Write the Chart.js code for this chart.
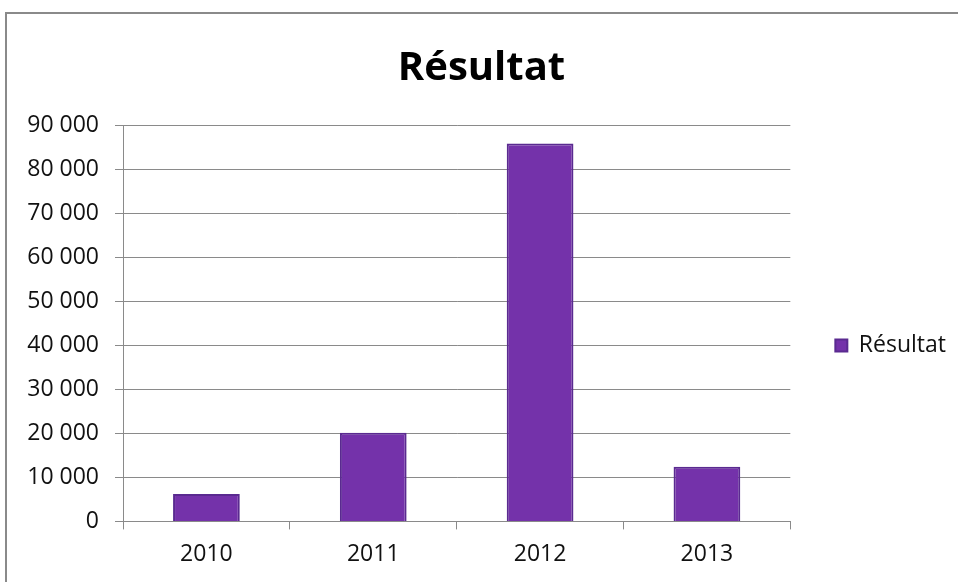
<!DOCTYPE html>
<html>
<head>
<meta charset="utf-8">
<script src="https://cdn.jsdelivr.net/npm/chart.js@4"></script>
<style>
  body { margin: 0; background: #fff; overflow: hidden; }
  #box {
    position: absolute; left: 5px; top: 12px;
    width: 951px; height: 570px;
    border: 2px solid #8a8a8a;
    background: #fff;
  }
</style>
</head>
<body>
<div id="box"><canvas id="chart" width="951" height="570"></canvas></div>
<script>
const years = ["2010", "2011", "2012", "2013"];
const resultat = [6200, 20100, 85800, 12400];
const seriesName = "Résultat";
const yMax = 90000;
const yStep = 10000;

// group thousands with a space, "90 000"
function fmt(v) {
  return String(v).replace(/\B(?=(\d{3})+(?!\d))/g, " ");
}

const font = "'Open Sans', sans-serif";

new Chart(document.getElementById("chart"), {
  type: "bar",
  data: {
    labels: years,
    datasets: [
      {
        label: seriesName,
        data: resultat,
        backgroundColor: "#7432aa",
        borderColor: "#5a2a90",
        borderWidth: 2,
        barPercentage: 0.4,
        categoryPercentage: 1,
      },
    ],
  },
  options: {
    responsive: false,
    animation: false,
    layout: { padding: { left: 0, right: 2, top: 0, bottom: 5 } },
    plugins: {
      title: {
        display: true,
        text: "Résultat",
        color: "#000",
        font: { family: font, size: 40, weight: "bold" },
        padding: { top: 31, bottom: 32 },
      },
      legend: {
        position: "right",
        // blank title only pushes the item down to where it sits
        title: {
          display: true,
          text: " ",
          font: { size: 10 },
          padding: { top: 43, bottom: 43 },
        },
        labels: {
          color: "#111",
          font: { family: font, size: 23 },
          boxWidth: 12,
          boxHeight: 12,
          padding: 10,
        },
      },
      tooltip: { enabled: false },
    },
    scales: {
      x: {
        offset: true,
        grid: {
          offset: true,
          drawOnChartArea: false,
          tickLength: 8,
          color: "#8a8a8a",
        },
        border: { color: "#8a8a8a" },
        ticks: {
          color: "#111",
          font: { family: font, size: 23 },
          padding: 11,
        },
      },
      y: {
        min: 0,
        max: yMax,
        afterFit: (s) => { s.width = 116; },
        grid: { color: "#8a8a8a", tickLength: 8 },
        border: { color: "#8a8a8a" },
        ticks: {
          stepSize: yStep,
          color: "#111",
          font: { family: font, size: 23 },
          padding: 16,
          callback: (v) => fmt(v),
        },
      },
      gap: {
        position: "right",
        display: true,
        grid: { display: false },
        border: { display: false },
        ticks: { display: false },
        afterFit: (s) => { s.width = 35; },
      },
    },
  },
});
</script>
</body>
</html>
